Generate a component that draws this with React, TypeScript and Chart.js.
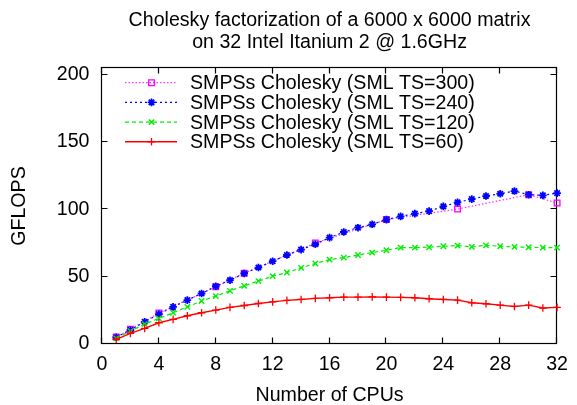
import React, { useEffect, useRef } from "react";
import { Chart, registerables } from "chart.js";
import { drawPoint } from "chart.js/helpers";

Chart.register(...registerables);

const titleLines = ["Cholesky factorization of a 6000 x 6000 matrix", "on 32 Intel Itanium 2 @ 1.6GHz"];
const xTitle = "Number of CPUs";
const yTitle = "GFLOPS";

const cpus = [1, 2, 3, 4, 5, 6, 7, 8, 9, 10, 11, 12, 13, 14, 15, 16, 17, 18, 19, 20, 21, 22, 23, 24, 25, 26, 27, 28, 29, 30, 31, 32];
const ts300Cpus = [1, 2, 4, 8, 10, 15, 20, 25, 30, 32];
const ts300 = [5.2, 11, 23, 42.5, 52.6, 75, 92.4, 100.2, 110.9, 104.7];
const ts240 = [5, 10.4, 16.5, 22.2, 27.6, 32.6, 37.5, 42.9, 47.4, 52.4, 56.8, 61.5, 66.1, 70.1, 74.1, 79.0, 83.2, 86.4, 88.9, 92.4, 94.8, 96.8, 98.7, 102.2, 105.2, 107.6, 109.9, 111.6, 113.6, 110.9, 110.4, 112.1];
const ts120 = [4.2, 9.6, 14.8, 19.0, 23.2, 27.6, 31.9, 35.6, 39.5, 43.2, 46.7, 50.4, 53.1, 56.5, 59.8, 62.7, 64.2, 66.1, 67.9, 69.6, 71.6, 71.6, 71.9, 72.6, 73.1, 72.1, 73.3, 72.6, 72.1, 71.9, 71.6, 71.6];
const ts60 = [3.5, 7.9, 11.6, 15.8, 18.3, 21.0, 23.2, 25.2, 27.2, 28.6, 30.1, 31.3, 32.4, 33.1, 33.9, 34.3, 34.8, 34.8, 35.0, 34.8, 34.6, 34.3, 33.6, 33.1, 32.6, 30.6, 29.9, 28.9, 27.9, 28.9, 26.7, 27.2];
const seriesLabels = [
  "SMPSs Cholesky (SML TS=300)",
  "SMPSs Cholesky (SML TS=240)",
  "SMPSs Cholesky (SML TS=120)",
  "SMPSs Cholesky (SML TS=60)",
];
const xTicks = [0, 4, 8, 12, 16, 20, 24, 28, 32];
const yTicks = [0, 50, 100, 150, 200];

const FONT = '"Liberation Sans", Arial, Helvetica, sans-serif';
const FS = 19.6;

const pts = (xs: number[], ys: number[]) => xs.map((x, i) => ({ x, y: ys[i] }));

const decorPlugin = {
  id: "decor",
  beforeDatasetsDraw(chart: any) {
    const { ctx, chartArea: a, scales } = chart;
    const L = Math.round(a.left) - 0.5;
    const R = Math.round(a.right) - 0.5;
    const T = Math.round(a.top) - 0.5;
    const B = Math.round(a.bottom) - 0.5;
    ctx.save();
    ctx.strokeStyle = "#000";
    ctx.lineWidth = 1.2;
    ctx.strokeRect(L, T, R - L, B - T);
    const tl = 6;
    ctx.beginPath();
    xTicks.forEach((v) => {
      const px = Math.round(scales.x.getPixelForValue(v)) - 0.5;
      ctx.moveTo(px, B);
      ctx.lineTo(px, B - tl);
      ctx.moveTo(px, T);
      ctx.lineTo(px, T + tl);
    });
    yTicks.forEach((v) => {
      const py = Math.round(scales.y.getPixelForValue(v)) - 0.5;
      ctx.moveTo(L, py);
      ctx.lineTo(L + tl, py);
      ctx.moveTo(R, py);
      ctx.lineTo(R - tl, py);
    });
    ctx.stroke();
    ctx.restore();
  },
  afterDraw(chart: any) {
    const { ctx, chartArea: a } = chart;
    const cx = (a.left + a.right) / 2;
    ctx.save();
    ctx.fillStyle = "#000";
    ctx.font = `${FS}px ${FONT}`;
    ctx.textAlign = "center";
    ctx.textBaseline = "alphabetic";
    ctx.fillText(titleLines[0], cx, 25.7);
    ctx.fillText(titleLines[1], cx, 48.3);
    ctx.fillText(xTitle, cx, 401);
    ctx.save();
    ctx.translate(20, (a.top + a.bottom) / 2);
    ctx.rotate(-Math.PI / 2);
    ctx.textBaseline = "middle";
    ctx.fillText(yTitle, 0, 0);
    ctx.restore();

    // legend
    chart.data.datasets.forEach((ds: any, i: number) => {
      const y = 82.7 + i * 19.7;
      ctx.save();
      ctx.strokeStyle = ds.borderColor;
      ctx.lineWidth = ds.borderWidth;
      ctx.setLineDash(ds.borderDash || []);
      ctx.beginPath();
      ctx.moveTo(125, y);
      ctx.lineTo(177, y);
      ctx.stroke();
      ctx.setLineDash([]);
      ctx.strokeStyle = ds.pointBorderColor;
      ctx.fillStyle = ds.pointBackgroundColor;
      ctx.lineWidth = ds.pointBorderWidth;
      drawPoint(ctx, { pointStyle: ds.pointStyle, radius: ds.pointRadius, rotation: 0, borderWidth: ds.pointBorderWidth }, 151.5, y);
      ctx.restore();
      ctx.fillStyle = "#000";
      ctx.textAlign = "left";
      ctx.textBaseline = "middle";
      ctx.fillText(seriesLabels[i], 190, y + 1);
    });
    ctx.restore();
  },
};

export default function App() {
  const ref = useRef<HTMLCanvasElement>(null);
  useEffect(() => {
    if (!ref.current) return;
    Chart.defaults.color = "#000";
    const chart = new Chart(ref.current, {
      type: "line",
      data: {
        datasets: [
          {
            label: seriesLabels[0],
            data: pts(ts300Cpus, ts300),
            borderColor: "#ff33ff",
            borderWidth: 1.2,
            borderDash: [1.5, 2],
            pointStyle: "rect",
            pointRadius: 4,
            pointBorderWidth: 1.3,
            pointBorderColor: "#ff00ff",
            pointBackgroundColor: "rgba(0,0,0,0)",
            clip: false,
            order: 4,
          },
          {
            label: seriesLabels[1],
            data: pts(cpus, ts240),
            borderColor: "#0000ff",
            borderWidth: 1.2,
            borderDash: [2, 3],
            pointStyle: "star",
            pointRadius: 3.8,
            pointBorderWidth: 1.8,
            pointBorderColor: "#0000ff",
            pointBackgroundColor: "#0000ff",
            clip: false,
            order: 3,
          },
          {
            label: seriesLabels[2],
            data: pts(cpus, ts120),
            borderColor: "#00ee00",
            borderWidth: 1.2,
            borderDash: [4, 3],
            pointStyle: "crossRot",
            pointRadius: 3.8,
            pointBorderWidth: 1.4,
            pointBorderColor: "#00ee00",
            pointBackgroundColor: "#00ee00",
            clip: false,
            order: 2,
          },
          {
            label: seriesLabels[3],
            data: pts(cpus, ts60),
            borderColor: "#ff0000",
            borderWidth: 1.4,
            pointStyle: "cross",
            pointRadius: 3.8,
            pointBorderWidth: 1.3,
            pointBorderColor: "#ff0000",
            pointBackgroundColor: "#ff0000",
            clip: false,
            order: 1,
          },
        ],
      },
      options: {
        responsive: false,
        devicePixelRatio: 1,
        animation: false,
        events: [],
        layout: { padding: { left: 0, top: 68, right: 16, bottom: 0 } },
        plugins: { legend: { display: false }, title: { display: false }, tooltip: { enabled: false } },
        elements: { line: { tension: 0 } },
        scales: {
          x: {
            type: "linear",
            min: 0,
            max: 32,
            grid: { display: false, drawTicks: false },
            border: { display: false },
            afterBuildTicks: (s: any) => {
              s.ticks = xTicks.map((v) => ({ value: v }));
            },
            afterFit: (s: any) => {
              s.height = 61;
            },
            ticks: { padding: 9, font: { family: FONT, size: FS }, color: "#000", maxRotation: 0, autoSkip: false },
          },
          y: {
            type: "linear",
            min: 0,
            max: 205,
            grid: { display: false, drawTicks: false },
            border: { display: false },
            afterBuildTicks: (s: any) => {
              s.ticks = yTicks.map((v) => ({ value: v }));
            },
            afterFit: (s: any) => {
              s.width = 102;
            },
            ticks: { padding: 12.5, font: { family: FONT, size: FS }, color: "#000" },
          },
        },
      },
      plugins: [decorPlugin],
    });
    return () => chart.destroy();
  }, []);
  return (
    <div style={{ position: "absolute", left: 0, top: 0, width: 577, height: 405, background: "#fff" }}>
      <canvas ref={ref} width={577} height={405} />
    </div>
  );
}
